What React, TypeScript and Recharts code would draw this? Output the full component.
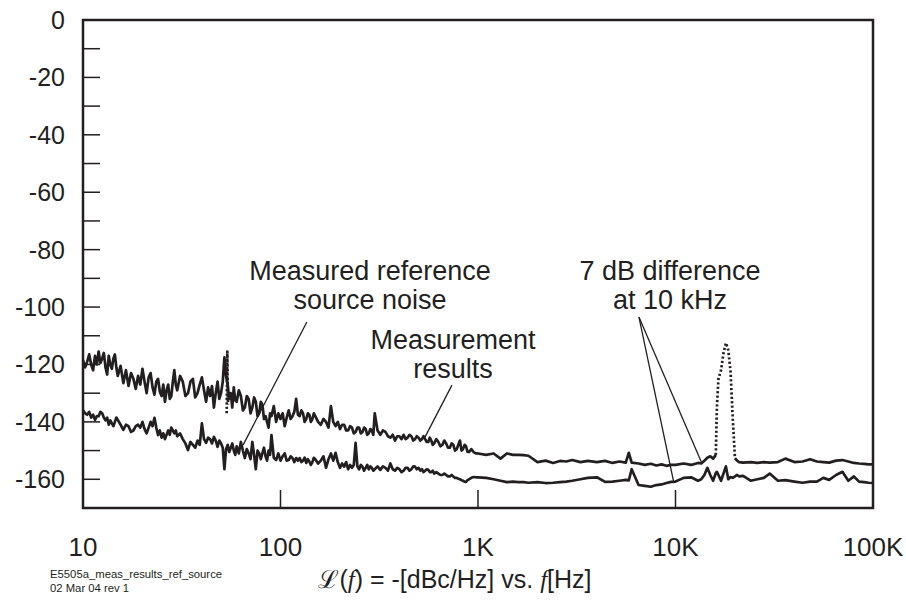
import React from "react";
import { LineChart, Line, XAxis, YAxis, ReferenceArea, ReferenceLine } from "recharts";

const INK = "#231f20";
const FONT = "'Liberation Sans', Arial, Helvetica, sans-serif";

// frequency steps inside one decade (multiplied by the decade start)
const FINE_STEPS = [
  1, 1.025, 1.05, 1.075, 1.1, 1.125, 1.15, 1.175, 1.2, 1.225,
  1.25, 1.275, 1.3, 1.325, 1.35, 1.375, 1.4, 1.425, 1.45, 1.475,
  1.5, 1.55, 1.6, 1.65, 1.7, 1.75, 1.8, 1.85, 1.9, 1.95,
  2, 2.05, 2.1, 2.15, 2.2, 2.25, 2.3, 2.35, 2.4, 2.45,
  2.5, 2.55, 2.6, 2.65, 2.7, 2.75, 2.8, 2.85, 2.9, 2.95,
  3, 3.1, 3.2, 3.3, 3.4, 3.5, 3.6, 3.7, 3.8, 3.9,
  4, 4.1, 4.2, 4.3, 4.4, 4.5, 4.6, 4.7, 4.8, 4.9,
  5, 5.1, 5.2, 5.3, 5.4, 5.5, 5.6, 5.7, 5.8, 5.9,
  6, 6.15, 6.3, 6.45, 6.6, 6.75, 6.9, 7.05, 7.2, 7.35,
  7.5, 7.65, 7.8, 7.95, 8.1, 8.25, 8.4, 8.55, 8.7, 8.85,
  9, 9.25, 9.5, 9.75,
];
const MID_STEPS = [1, 1.1, 1.2, 1.3, 1.4, 1.5, 1.6, 1.7, 1.8, 2, 2.2, 2.4, 2.6, 2.8, 3, 3.3, 3.6, 4, 4.4, 4.8, 5.2, 5.6, 5.8, 6, 6.5, 7, 7.5, 8, 8.5, 9, 9.5];
const HIGH_STEPS = [1, 1.1, 1.2, 1.3, 1.35, 1.4, 1.45, 1.5, 1.55, 1.6, 1.62, 1.65, 1.7, 1.75, 1.8, 1.85, 1.9, 1.95, 2, 2.05, 2.1, 2.2, 2.4, 2.6, 2.8, 3, 3.3, 3.6, 4, 4.4, 4.8, 5.2, 5.6, 6, 6.5, 7, 7.5, 8, 8.5, 9, 9.5, 10];

// Measurement results, dBc/Hz
const measured10 = [
  -118.5, -121, -119, -116.5, -120, -122, -117, -120, -115.5, -119.5,
  -118, -116, -121, -123.5, -117, -120, -121.5, -118, -116.5, -121,
  -124, -120.5, -126.5, -122, -127.5, -123, -125, -128.5, -124, -127,
  -121.5, -126, -130, -124.5, -123, -128, -130.5, -126, -125, -129.5,
  -131, -127, -133, -129, -127, -132, -131, -126, -122, -127,
  -129, -124, -126, -131, -130, -126, -125, -131.5, -130, -127,
  -124.5, -129, -133, -128, -131, -127.5, -135, -130, -126, -132,
  -130, -126, -117.5, -124, -127, -132, -130, -135, -128, -132.5,
  -133, -129, -131, -136, -135, -131, -132, -137, -135, -131.5,
  -133, -138, -137, -133, -134, -139, -138, -140, -142, -137,
  -138, -134.5, -140, -137,
];
const measured100 = [
  -139, -137, -141.5, -138.5, -136, -139, -138, -136.5, -132, -137.5,
  -138, -136, -137, -140, -139, -137, -137.5, -140, -139, -137,
  -138, -140, -141, -139, -140, -142, -134.5, -140, -141.5, -140,
  -142.5, -141, -141, -143, -143, -141.5, -142, -144, -143.5, -142,
  -142, -144, -143.5, -142, -142.5, -144.5, -144, -142.5, -143, -144.5,
  -137, -143, -144.5, -143, -143.5, -145, -145.5, -144.5, -146.5, -145,
  -145, -146, -144.5, -146, -145.5, -144.5, -145, -146.5, -146, -145,
  -145.5, -146.5, -146, -145, -146, -147, -147, -145.5, -146.5, -148,
  -147.5, -146, -147, -148.5, -148, -146.5, -147.5, -149, -149, -147.5,
  -148, -150, -149.5, -148, -146.5, -150, -149.5, -148, -148.5, -150.5,
  -150.5, -149.5, -150.5, -151,
];
const measured1k = [
  -151, -151.5, -151, -152.8, -151, -151.5, -151.5, -151.6, -151.8,
  -154, -153.5, -154.3, -153.6, -153.8,
  -153.3, -154, -153.6, -154, -153.6, -154.3,
  -153.8, -154.2, -150.8, -154.2, -154.5,
  -155, -154.6, -155.2, -154.8, -155.3, -155,
];
const measured10k = [
  -155, -154.5, -155, -154.3,
  -154.5, -153.5, -152.5, -152,
  -152.8, -151.5, null, null,
  null, null, null, null,
  null, null, -152.6, -153.5,
  -154, -154.2, -154, -154.3,
  -154, -154.2, -154, -152.8,
  -154, -153.8, -153, -153.8,
  -154, -154.2, -153.5, -153.3,
  -153.8, -154.3, -154.5, -154.6,
  -154.8, -154.8,
];

// Measured reference source noise, dBc/Hz
const reference10 = [
  -136, -137, -137.5, -136.5, -138.5, -137.5, -139.3, -138, -138, -136.5,
  -137, -138.5, -139.5, -138.5, -141, -139.5, -140.5, -141.5, -140, -138.5,
  -139.3, -141, -142.8, -141, -141.5, -143.5, -143, -141.5, -141, -142,
  -140, -142.5, -144, -142, -140, -141.5, -138.6, -142, -144.6, -143,
  -145.5, -144, -146, -144.5, -143, -144.5, -142, -143, -144, -143,
  -145, -144, -146, -147.5, -149.8, -147, -148, -149, -146.5, -148,
  -140.5, -146, -147.3, -145.5, -146, -147.5, -145.2, -146.5, -148.7, -146.5,
  -147.5, -149, -156.5, -149.5, -148, -150.5, -149, -147.5, -150, -151.5,
  -148.5, -151, -147, -150, -152.6, -149.5, -151, -153, -147, -151.5,
  -156.5, -150, -151, -153, -150.8, -149, -152, -153.5, -150, -151.5,
  -144.6, -152.5, -153.3, -151,
];
const reference100 = [
  -153.5, -152, -151, -153.5, -153.3, -152, -152.6, -154, -152.6, -153.5,
  -152.6, -154, -153.5, -152.5, -154.3, -153, -153.8, -155, -154, -152.5,
  -153, -154.5, -153.5, -152, -156, -153, -151, -153.5, -150.8, -154,
  -156, -154.5, -155.6, -154, -156.5, -155, -156, -155, -147.3, -155.5,
  -156.5, -155, -155.6, -157, -156, -155, -156.5, -155.5, -156, -157,
  -156.5, -155.5, -156.7, -155.5, -156, -157, -154.5, -156.5, -157, -156,
  -156.5, -157.5, -157, -156, -156, -157, -156.5, -155.5, -155.6, -156.5,
  -156, -157, -156.5, -157.5, -157, -156.5, -156.7, -157.5, -157.5, -157,
  -158, -157.5, -158, -158.5, -158.5, -158, -158.5, -159, -159, -158.5,
  -159, -159.5, -159.5, -159.8, -160, -160.3, -160.5, -160.8, -160.9, -160.3,
  -160, -159.5, -159.2, -159.3,
];
const reference1k = [
  -159.3, -159.5, -160, -160.5, -161, -160.8, -161, -161, -161.2,
  -161, -161.3, -161.2, -161, -160.8,
  -160.5, -160, -159.5, -159.3, -160.9, -160.8,
  -160.5, -160.2, -160.4, -156.5, -162,
  -162.3, -162.6, -162, -161.8, -161.3, -160.9,
];
const reference10k = [
  -160.8, -159.5, -159.3, -160.5,
  -160, -158.5, -156, -158.5,
  -160.5, -157.8, -157.4, -158.5,
  -160.5, -158, -155.5, -160,
  -159.2, -159.5, -159, -158.5,
  -159, -158.8, -160.5, -160,
  -159.5, -158, -160.5, -160.3,
  -160.8, -161.2, -160.8, -160.8,
  -159.5, -160.2, -158.5, -157.4,
  -160.5, -159, -160.8, -161,
  -161.2, -161.3,
];

// dotted spurs
const spurFreqs = [16000, 16200, 16500, 17000, 17500, 18000, 18500, 19000, 19500, 20000];
const spurLevels = [-151.5, -135, -125, -122, -116, -112.5, -115, -122.5, -139, -152.6];
const lineSpurFreqs = [53.4, 53.8, 54.2];
const lineSpurLevels = [-137, -115.5, -134];

const xTicks = [10, 100, 1000, 10000, 100000];
const xTickLabels = ["10", "100", "1K", "10K", "100K"];
const yTicks = [0, -10, -20, -30, -40, -50, -60, -70, -80, -90, -100, -110, -120, -130, -140, -150, -160];

// leader lines for the callouts: [fromHz, fromDb, toHz, toDb]
const leaders = [
  [136, -105.2, 64.6, -148.1],
  [738, -127.2, 539, -145.3],
  [6530, -103.5, 13600, -154.4],
  [6530, -103.5, 9820, -161.3],
];

const decade = (base: number, steps: number[], values: (number | null)[]) =>
  steps.map((m, i) => ({ f: +(base * m).toPrecision(6), v: values[i] }));

const measuredData = [
  ...decade(10, FINE_STEPS, measured10),
  ...decade(100, FINE_STEPS, measured100),
  ...decade(1000, MID_STEPS, measured1k),
  ...decade(10000, HIGH_STEPS, measured10k),
];
const referenceData = [
  ...decade(10, FINE_STEPS, reference10),
  ...decade(100, FINE_STEPS, reference100),
  ...decade(1000, MID_STEPS, reference1k),
  ...decade(10000, HIGH_STEPS, reference10k),
];
const spurData = spurFreqs.map((f, i) => ({ f, v: spurLevels[i] }));
const lineSpurData = lineSpurFreqs.map((f, i) => ({ f, v: lineSpurLevels[i] }));

const YTick = ({ x, y, payload }: any) => {
  const v = payload.value;
  return (
    <g>
      {v < 0 && <line x1={x} x2={x + 17} y1={y} y2={y} stroke={INK} strokeWidth={1.5} />}
      {v % 20 === 0 && (
        <text x={x - 18} y={y} textAnchor="end" dominantBaseline="central" fontSize={25} fontFamily={FONT} fill={INK}>
          {v}
        </text>
      )}
    </g>
  );
};

const XTick = ({ x, y, payload, index }: any) => {
  const v = payload.value;
  return (
    <g>
      {v > 10 && v < 100000 && <line x1={x} x2={x} y1={y} y2={y - 18} stroke={INK} strokeWidth={1.5} />}
      <text x={x} y={y + 39} textAnchor="middle" dominantBaseline="central" fontSize={26} fontFamily={FONT} fill={INK}>
        {xTickLabels[xTicks.indexOf(v)] ?? index}
      </text>
    </g>
  );
};

const traceProps = {
  type: "linear" as const,
  dataKey: "v",
  stroke: INK,
  strokeWidth: 2.7,
  strokeLinejoin: "round" as const,
  dot: false,
  activeDot: false,
  isAnimationActive: false,
  connectNulls: false,
};

export default function App() {
  const ann = { fontSize: 27, fontFamily: FONT, fill: INK, textAnchor: "middle" as const, dominantBaseline: "central" as const };
  return (
    <div style={{ position: "absolute", left: 0, top: 0, width: 906, height: 602, background: "#fff" }}>
      <LineChart width={906} height={602} margin={{ top: 20, right: 33, bottom: 0, left: 0 }}>
        <XAxis
          dataKey="f"
          type="number"
          scale="log"
          domain={[10, 100000]}
          ticks={xTicks}
          allowDataOverflow
          axisLine={false}
          tickLine={false}
          tickSize={0}
          tickMargin={0}
          height={94}
          tick={<XTick />}
        />
        <YAxis
          type="number"
          domain={[-170, 0]}
          ticks={yTicks}
          allowDataOverflow
          axisLine={false}
          tickLine={false}
          tickSize={0}
          tickMargin={0}
          width={83}
          tick={<YTick />}
        />
        <ReferenceArea x1={10} x2={100000} y1={-170} y2={0} fill="none" stroke={INK} strokeWidth={2.5} ifOverflow="visible" />
        {leaders.map(([f1, d1, f2, d2], i) => (
          <ReferenceLine
            key={i}
            segment={[{ x: f1, y: d1 }, { x: f2, y: d2 }]}
            stroke={INK}
            strokeWidth={1.3}
            ifOverflow="visible"
          />
        ))}
        <Line {...traceProps} data={referenceData} name="Measured reference source noise" />
        <Line {...traceProps} data={measuredData} name="Measurement results" />
        <Line {...traceProps} data={spurData} strokeDasharray="2.2 2.2" name="spur" />
        <Line {...traceProps} data={lineSpurData} strokeDasharray="2.2 2.2" name="line spur" />
      </LineChart>
      <svg width={906} height={602} style={{ position: "absolute", left: 0, top: 0, pointerEvents: "none" }}>
        <text x={370} y={271} {...ann}>Measured reference</text>
        <text x={370} y={300} {...ann}>source noise</text>
        <text x={453} y={340} {...ann}>Measurement</text>
        <text x={453} y={369} {...ann}>results</text>
        <text x={670} y={271} {...ann}>7 dB difference</text>
        <text x={670} y={300} {...ann}>at 10 kHz</text>
        <text x={455} y={579} fontSize={25} fontFamily={FONT} fill={INK} textAnchor="middle" dominantBaseline="central">
          <tspan fontFamily="'DejaVu Serif', serif">ℒ</tspan>
          <tspan>(</tspan>
          <tspan fontFamily="'Liberation Serif', serif" fontStyle="italic">f</tspan>
          <tspan>) = -[dBc/Hz] vs. </tspan>
          <tspan fontFamily="'Liberation Serif', serif" fontStyle="italic">f</tspan>
          <tspan>[Hz]</tspan>
        </text>
        <text x={50} y={574} fontSize={11.3} fontFamily={FONT} fill={INK} dominantBaseline="central">E5505a_meas_results_ref_source</text>
        <text x={50} y={588} fontSize={11.3} fontFamily={FONT} fill={INK} dominantBaseline="central">02 Mar 04  rev 1</text>
      </svg>
    </div>
  );
}
